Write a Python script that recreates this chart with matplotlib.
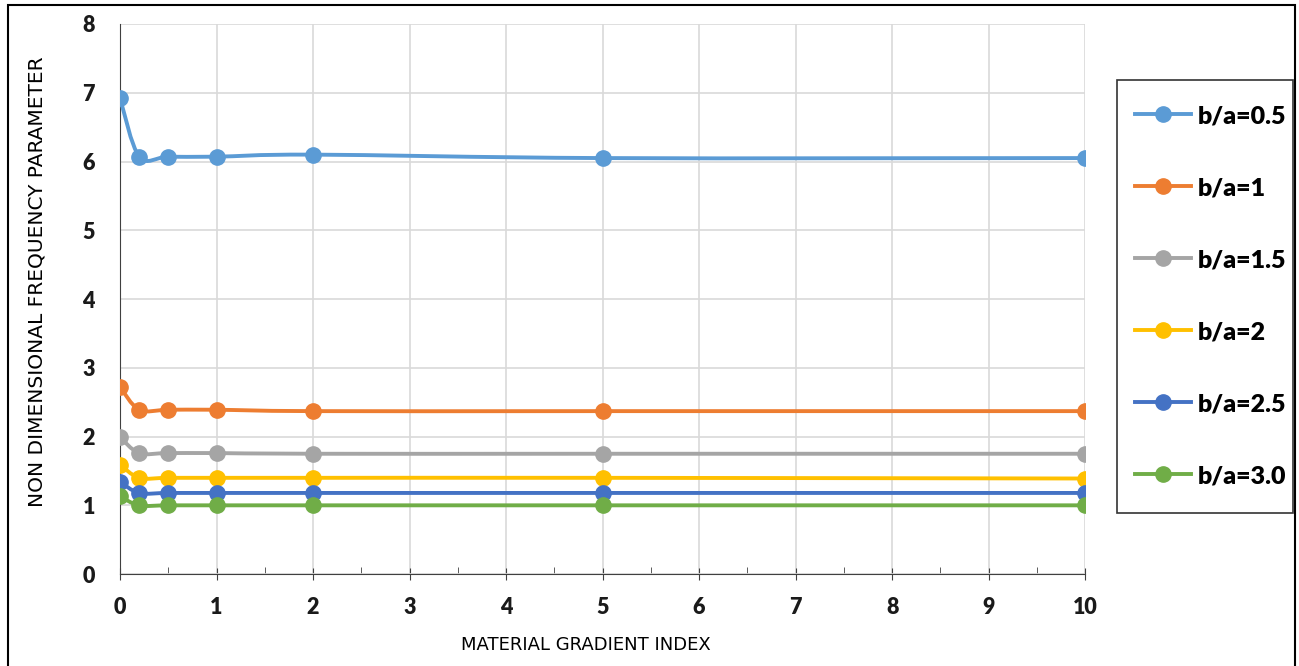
import matplotlib

matplotlib.use("Agg")
import matplotlib.pyplot as plt
import numpy as np
from matplotlib.path import Path
from matplotlib.patches import PathPatch, Rectangle
from matplotlib.ticker import MultipleLocator

gradient_index = [0, 0.2, 0.5, 1, 2, 5, 10]
ba_05 = [6.92, 6.07, 6.07, 6.07, 6.10, 6.05, 6.05]
ba_10 = [2.72, 2.39, 2.39, 2.39, 2.37, 2.37, 2.37]
ba_15 = [1.99, 1.76, 1.76, 1.76, 1.75, 1.75, 1.75]
ba_20 = [1.59, 1.40, 1.40, 1.40, 1.40, 1.40, 1.39]
ba_25 = [1.34, 1.18, 1.18, 1.18, 1.18, 1.18, 1.18]
ba_30 = [1.13, 1.00, 1.00, 1.00, 1.00, 1.00, 1.00]
labels = ["b/a=0.5", "b/a=1", "b/a=1.5", "b/a=2", "b/a=2.5", "b/a=3.0"]
colors = ["#5B9BD5", "#ED7D31", "#A5A5A5", "#FFC000", "#4472C4", "#70AD47"]


def smooth_path(x, y):
    # Excel-style smoothed line: cubic bezier through the points
    pts = np.column_stack([x, y]).astype(float)
    verts = [pts[0]]
    codes = [Path.MOVETO]
    n = len(pts)
    for i in range(n - 1):
        p0 = pts[i - 1] if i > 0 else pts[i]
        p1, p2 = pts[i], pts[i + 1]
        p3 = pts[i + 2] if i + 2 < n else pts[i + 1]
        c1 = p1 + (p2 - p0) / 6
        c2 = p2 - (p3 - p1) / 6
        verts += [c1, c2, p2]
        codes += [Path.CURVE4] * 3
    return Path(verts, codes)


fig = plt.figure(figsize=(12.99, 6.66), dpi=100)
ax = fig.add_axes([0.0924, 0.138, 0.743, 0.826])

series = [ba_05, ba_10, ba_15, ba_20, ba_25, ba_30]
for values, label, color in zip(series, labels, colors):
    patch = PathPatch(smooth_path(gradient_index, values), facecolor="none",
                      edgecolor=color, lw=2.8, zorder=3)
    ax.add_patch(patch)
    ax.plot(gradient_index, values, marker="o", color=color, ms=11,
            label=label, zorder=4, linestyle="none")

ax.set_xlim(0, 10)
ax.set_ylim(0, 8)
ax.xaxis.set_major_locator(MultipleLocator(1))
ax.xaxis.set_minor_locator(MultipleLocator(0.5))
ax.yaxis.set_major_locator(MultipleLocator(1))
ax.grid(True, which="major", color="#D9D9D9", lw=1.2)
ax.set_axisbelow(True)
for side in ["top", "right"]:
    ax.spines[side].set_visible(False)
ax.spines["left"].set_color("#404040")
ax.spines["bottom"].set_color("#404040")
ax.tick_params(axis="x", which="major", direction="inout", length=9, color="#404040", pad=12)
ax.tick_params(axis="x", which="minor", direction="in", length=5, color="#404040")
ax.tick_params(axis="y", which="major", length=0, pad=18)
for lab in ax.get_xticklabels() + ax.get_yticklabels():
    lab.set_fontfamily("Lato")
    lab.set_fontweight("heavy")
    lab.set_fontsize(15.5)
    lab.set_color("#1a1a1a")

ax.set_xlabel("MATERIAL GRADIENT INDEX", fontfamily="Liberation Sans Narrow", fontsize=13)
ax.set_ylabel("NON DIMENSIONAL FREQUENCY PARAMETER", fontfamily="Liberation Sans Narrow",
              fontsize=14.5)
ax.xaxis.set_label_coords(0.483, -0.113)
ax.yaxis.set_label_coords(-0.0757, 0.531)

# legend entries without frame, the box drawn separately
handles = [plt.Line2D([], [], color=c, lw=2.8, marker="o", ms=11) for c in colors]
leg = fig.legend(handles, labels, loc="upper left", bbox_to_anchor=(0.8735, 0.842),
                 borderaxespad=0, frameon=False, borderpad=0,
                 labelspacing=2.0, handlelength=2.25, handletextpad=0.28,
                 prop={"family": "Lato", "weight": "heavy", "size": 18})
fig.patches.append(Rectangle((0.8599, 0.2297), 0.1355, 0.650, transform=fig.transFigure,
                             fill=False, edgecolor="#333333", lw=1.2))

fig.patches.append(Rectangle((0.006, -0.01), 0.991, 1.003, transform=fig.transFigure,
                             fill=False, edgecolor="black", lw=1.5))

fig.savefig("out.png", dpi=100)
